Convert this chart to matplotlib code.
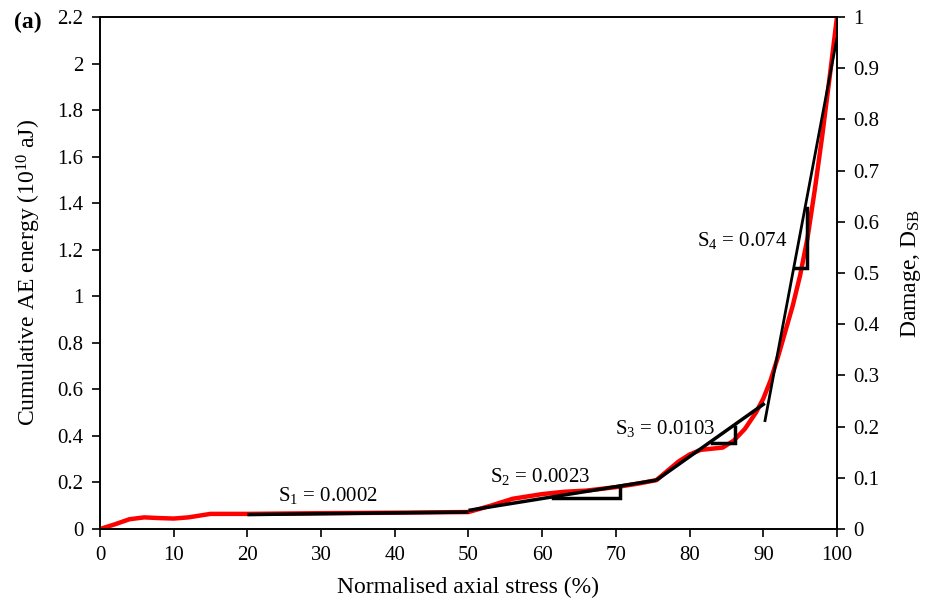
import matplotlib.pyplot as plt
from matplotlib.ticker import FuncFormatter, MultipleLocator

plt.rcParams['font.family'] = ['Liberation Serif', 'DejaVu Serif']
plt.rcParams['mathtext.fontset'] = 'custom'
plt.rcParams['mathtext.rm'] = 'Liberation Serif'
plt.rcParams['mathtext.it'] = 'Liberation Serif:italic'

# cumulative AE energy against normalised axial stress
stress = [0, 2, 4, 6, 8, 10, 12, 15, 20, 30, 40, 50, 53, 56, 60, 63, 66, 70, 73,
          75.5, 77, 78.5, 80, 81.5, 83, 84.5, 86, 87.5, 89, 90, 91, 92, 93, 94,
          95, 96, 97, 98, 99, 100]
energy = [0, 0.02, 0.042, 0.05, 0.047, 0.045, 0.05, 0.065, 0.065, 0.068, 0.07,
          0.073, 0.1, 0.13, 0.15, 0.16, 0.165, 0.18, 0.195, 0.21, 0.25, 0.29,
          0.32, 0.34, 0.345, 0.35, 0.38, 0.43, 0.5, 0.56, 0.64, 0.74, 0.85,
          0.96, 1.09, 1.25, 1.46, 1.69, 1.94, 2.2]

# linear fits for the four stages
fit_x = [[20, 50], [50, 75.5], [75.5, 90.2], [90.2, 100]]
fit_y = [[0.062, 0.073], [0.08, 0.21], [0.21, 0.54], [0.46, 2.11]]
fit_lw = [2.5, 2.5, 2.5, 2.0]

# slope triangles: x of horizontal leg, y of bottom, y of top
tri_x = [[61.5, 70.6], [83.0, 86.2], [94.3, 95.9]]
tri_y = [[0.135, 0.185], [0.37, 0.44], [1.12, 1.38]]

slope_labels = ['S$_1$ = 0.0002', 'S$_2$ = 0.0023', 'S$_3$ = 0.0103', 'S$_4$ = 0.074']
label_x = [31.0, 59.7, 76.7, 87.2]
label_y = [0.146, 0.225, 0.43, 1.24]

fig = plt.figure(figsize=(9.38, 6.03), dpi=100)
ax = fig.add_axes([0.1066, 0.1227, 0.7857, 0.8491])

ax.plot(stress, energy, color='red', lw=3.2, zorder=2)

for xs, ys, lw in zip(fit_x, fit_y, fit_lw):
    ax.plot(xs, ys, color='black', lw=lw, zorder=3, solid_capstyle='butt')

for xs, ys in zip(tri_x, tri_y):
    ax.plot([xs[0], xs[1], xs[1]], [ys[0], ys[0], ys[1]], color='black', lw=2.5,
            zorder=3, solid_joinstyle='miter')

for t, lx, ly in zip(slope_labels, label_x, label_y):
    ax.text(lx, ly, t, ha='center', va='center', fontsize=15)

ax.set_xlim(0, 100)
ax.set_ylim(0, 2.2)
ax.xaxis.set_major_locator(MultipleLocator(10))
ax.yaxis.set_major_locator(MultipleLocator(0.2))
fmt = FuncFormatter(lambda v, p: ('%.1f' % v).rstrip('0').rstrip('.'))
ax.yaxis.set_major_formatter(fmt)
ax.tick_params(direction='out', length=6, width=1.2, labelsize=15, pad=6)
for s in ax.spines.values():
    s.set_linewidth(1.2)

ax.set_xlabel('Normalised axial stress (%)', fontsize=17, labelpad=9)
ax.set_ylabel('Cumulative AE energy (10$^{10}$ aJ)', fontsize=17, labelpad=10)

ax2 = ax.twinx()
ax2.set_ylim(0, 1)
ax2.yaxis.set_major_locator(MultipleLocator(0.1))
ax2.yaxis.set_major_formatter(fmt)
ax2.tick_params(direction='out', length=6, width=1.2, labelsize=15, pad=6)
ax2.set_ylabel('Damage, D$_{\\mathrm{SB}}$', fontsize=17, labelpad=14)
for s in ax2.spines.values():
    s.set_linewidth(1.2)

fig.text(0.015, 0.963, '(a)', fontsize=17, fontweight='bold', va='center')

fig.savefig('out.png', dpi=100)
